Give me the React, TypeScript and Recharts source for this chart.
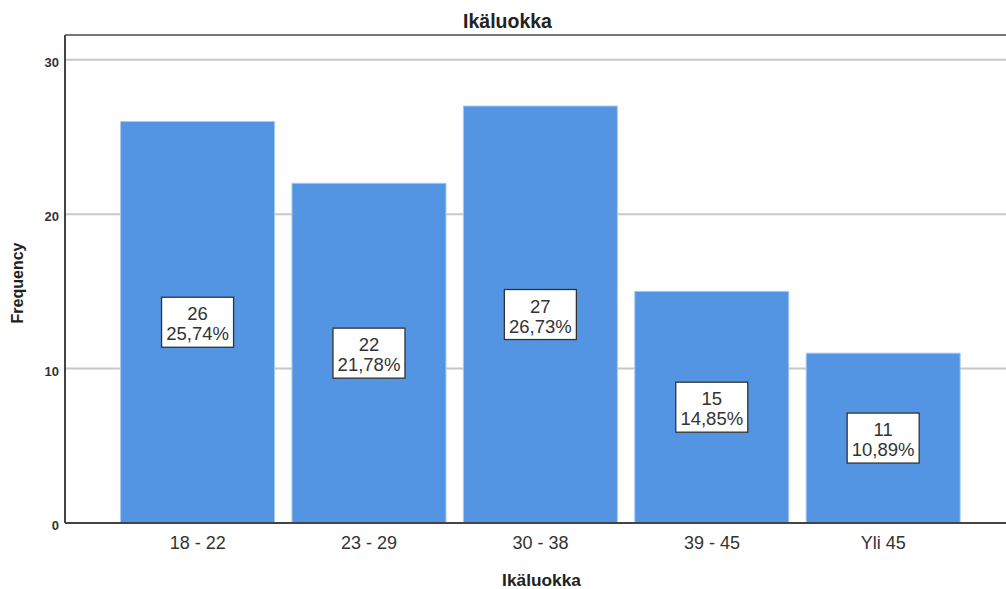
import React from 'react';
import { BarChart, Bar, XAxis, YAxis, CartesianGrid, LabelList, ReferenceLine } from 'recharts';

const ageGroups = ['18 - 22', '23 - 29', '30 - 38', '39 - 45', 'Yli 45'];
const frequencies = [26, 22, 27, 15, 11];
const percents = ['25,74%', '21,78%', '26,73%', '14,85%', '10,89%'];
const yTicks = [0, 10, 20, 30];

const data = ageGroups.map((group, i) => ({
  group,
  count: frequencies[i],
  pct: percents[i],
}));

const FONT = '"Liberation Sans", Arial, sans-serif';

// white box in the middle of each bar with count and percentage
const CountLabel = (props: any) => {
  const { x, y, width, height, index } = props;
  const cx = x + width / 2;
  const cy = y + height / 2;
  const boxW = 72;
  const boxH = 50;
  return (
    <g>
      <rect x={cx - boxW / 2} y={cy - boxH / 2} width={boxW} height={boxH} fill="#fff" stroke="#333" strokeWidth={1.3} />
      <text x={cx} y={cy - 2} textAnchor="middle" fontSize={18.5} fill="#333" fontFamily={FONT}>
        {data[index].count}
      </text>
      <text x={cx} y={cy + 18} textAnchor="middle" fontSize={18.5} fill="#333" fontFamily={FONT}>
        {data[index].pct}
      </text>
    </g>
  );
};

const YTick = (props: any) => {
  const { x, y, payload } = props;
  return (
    <text x={x} y={y + 7} textAnchor="end" fontSize={13} fontWeight={700} fill="#333" fontFamily={FONT}>
      {payload.value}
    </text>
  );
};

const XTitle = (props: any) => {
  const { viewBox } = props;
  return (
    <text x={viewBox.x + viewBox.width / 2 + 6} y={viewBox.y + 63} textAnchor="middle" fontSize={17.3} fontWeight={700} fill="#222" fontFamily={FONT}>
      Ikäluokka
    </text>
  );
};

const YTitle = (props: any) => {
  const { viewBox } = props;
  const tx = 23;
  const ty = viewBox.y + viewBox.height / 2 + 4;
  return (
    <text x={tx} y={ty} transform={`rotate(-90, ${tx}, ${ty})`} textAnchor="middle" fontSize={16} fontWeight={700} fill="#222" fontFamily={FONT}>
      Frequency
    </text>
  );
};

const App: React.FC = () => {
  return (
    <div style={{ position: 'fixed', left: 0, top: 0, width: 1006, height: 589, overflow: 'hidden', background: '#fff', fontFamily: FONT }}>
      <div style={{ position: 'absolute', top: 12, left: 0, width: 1015, textAlign: 'center', fontSize: 19.5, lineHeight: 1, fontWeight: 700, color: '#222' }}>
        Ikäluokka
      </div>
      <BarChart
        width={1006}
        height={589}
        data={data}
        margin={{ top: 35, right: 0, left: 0, bottom: 0 }}
        barCategoryGap="5%"
      >
        <CartesianGrid vertical={false} stroke="#c8c8c8" strokeWidth={2} />
        <ReferenceLine y={31.6} stroke="#777" strokeWidth={2} />
        <XAxis
          dataKey="group"
          height={66}
          padding={{ left: 47, right: 37 }}
          axisLine={{ stroke: '#444', strokeWidth: 2 }}
          tickLine={false}
          tickMargin={7}
          tick={{ fill: '#333', fontSize: 18, fontFamily: FONT }}
          label={<XTitle />}
        />
        <YAxis
          width={65}
          domain={[0, 31.6]}
          ticks={yTicks}
          allowDataOverflow
          axisLine={{ stroke: '#444', strokeWidth: 2 }}
          tickLine={false}
          tickMargin={0}
          tick={<YTick />}
          label={<YTitle />}
        />
        <Bar dataKey="count" fill="#5394e3" stroke="#a9c9f1" strokeWidth={1} isAnimationActive={false}>
          <LabelList dataKey="count" content={<CountLabel />} />
        </Bar>
      </BarChart>
    </div>
  );
};

export default App;
